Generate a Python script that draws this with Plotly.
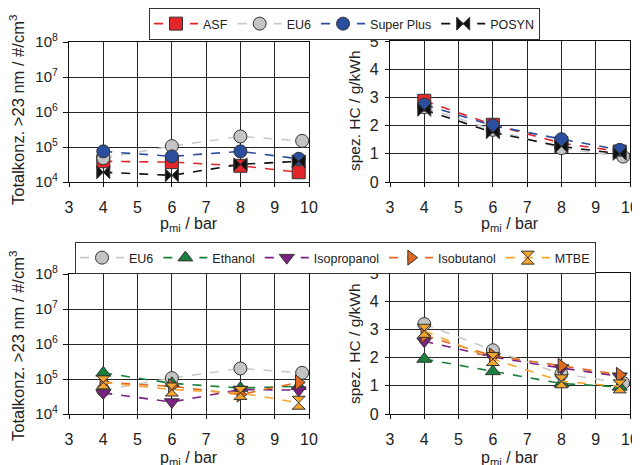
import plotly.graph_objects as go

# ---------------- data ----------------
x_load = [4, 6, 8, 9.7]
x_eu6 = [4, 6, 8, 9.8]

# particle number concentration (#/cm3), top
pn_asf = [3.9e4, 3.7e4, 2.9e4, 1.9e4]
pn_eu6 = [4.8e4, 1.06e5, 2.0e5, 1.5e5]
pn_superplus = [7.5e4, 5.4e4, 7.5e4, 4.6e4]
pn_posyn = [1.9e4, 1.55e4, 3.2e4, 3.9e4]

# HC specific emission (g/kWh), top
hc_asf = [2.88, 2.03, 1.38, 1.08]
hc_eu6_top = [2.65, 1.85, 1.2, 0.9]
hc_superplus = [2.74, 2.0, 1.52, 1.14]
hc_posyn = [2.56, 1.76, 1.26, 1.0]

# particle number concentration, bottom
pn_ethanol = [1.5e5, 7.5e4, 5.5e4, 6.2e4]
pn_isopropanol = [4.0e4, 2.2e4, 5.0e4, 4.8e4]
pn_isobutanol = [8.0e4, 6.2e4, 3.6e4, 8.0e4]
pn_mtbe = [8.0e4, 5.0e4, 4.0e4, 2.1e4]

# HC, bottom
hc_eu6_bot = [3.19, 2.26, 1.42, 1.1]
hc_ethanol = [1.95, 1.51, 1.08, 0.96]
hc_isopropanol = [2.58, 2.02, 1.63, 1.34]
hc_isobutanol = [2.78, 2.07, 1.71, 1.39]
hc_mtbe = [2.95, 1.95, 1.16, 0.98]

log_tickvals = [1e4, 1e5, 1e6, 1e7, 1e8]
log_ticktext = ["10<sup>4</sup>", "10<sup>5</sup>", "10<sup>6</sup>", "10<sup>7</sup>", "10<sup>8</sup>"]
x_ticks = [3, 4, 5, 6, 7, 8, 9, 10]
hc_ticks = [0, 1, 2, 3, 4, 5]

# ---------------- styles ----------------
C_ASF = "#e3262b"
C_EU6_LINE = "#c9c9c9"
C_EU6_FILL = "#c4c4c4"
C_SP = "#2b4f9e"
C_POS = "#111111"
C_ETH = "#1a7f3c"
C_IPA = "#7a2181"
C_IBA = "#e0691f"
C_MTBE = "#f6a52c"

FONT = "Liberation Sans, Arial, sans-serif"
# the page body has an 8 px margin, so the figure is drawn 8 px in from the corner
OFF = 8
W, H = 640 - OFF, 465 - OFF

fig = go.Figure()

def add(x, y, name, lc, fc, sym, xa, ya, legend, showlegend, size=13):
    fig.add_trace(go.Scatter(
        x=x, y=y, name=name, mode="lines+markers",
        line=dict(color=lc, width=1.6, dash="dash"),
        marker=dict(symbol=sym, size=size, color=fc, line=dict(color="#333333", width=1)),
        xaxis=xa, yaxis=ya, legend=legend, showlegend=showlegend,
        legendgroup=legend + name,
    ))

# top left
add(x_load, pn_asf, "ASF", C_ASF, C_ASF, "square", "x", "y", "legend", True)
add(x_eu6, pn_eu6, "EU6", C_EU6_LINE, C_EU6_FILL, "circle", "x", "y", "legend", True)
add(x_load, pn_superplus, "Super Plus", C_SP, C_SP, "circle", "x", "y", "legend", True)
add(x_load, pn_posyn, "POSYN", C_POS, C_POS, "bowtie", "x", "y", "legend", True)
# top right
add(x_load, hc_asf, "ASF", C_ASF, C_ASF, "square", "x2", "y2", "legend", False)
add(x_eu6, hc_eu6_top, "EU6", C_EU6_LINE, C_EU6_FILL, "circle", "x2", "y2", "legend", False)
add(x_load, hc_superplus, "Super Plus", C_SP, C_SP, "circle", "x2", "y2", "legend", False)
add(x_load, hc_posyn, "POSYN", C_POS, C_POS, "bowtie", "x2", "y2", "legend", False)
# bottom left
add(x_eu6, pn_eu6, "EU6", C_EU6_LINE, C_EU6_FILL, "circle", "x3", "y3", "legend2", True)
add(x_load, pn_ethanol, "Ethanol", C_ETH, C_ETH, "triangle-up", "x3", "y3", "legend2", True)
add(x_load, pn_isopropanol, "Isopropanol", C_IPA, C_IPA, "triangle-down", "x3", "y3", "legend2", True)
add(x_load, pn_isobutanol, "Isobutanol", C_IBA, C_IBA, "triangle-right", "x3", "y3", "legend2", True)
add(x_load, pn_mtbe, "MTBE", C_MTBE, C_MTBE, "hourglass", "x3", "y3", "legend2", True)
# bottom right
add(x_eu6, hc_eu6_bot, "EU6", C_EU6_LINE, C_EU6_FILL, "circle", "x4", "y4", "legend2", False)
add(x_load, hc_ethanol, "Ethanol", C_ETH, C_ETH, "triangle-up", "x4", "y4", "legend2", False)
add(x_load, hc_isopropanol, "Isopropanol", C_IPA, C_IPA, "triangle-down", "x4", "y4", "legend2", False)
add(x_load, hc_isobutanol, "Isobutanol", C_IBA, C_IBA, "triangle-right", "x4", "y4", "legend2", False)
add(x_load, hc_mtbe, "MTBE", C_MTBE, C_MTBE, "hourglass", "x4", "y4", "legend2", False)

def fx(sx):
    return (sx - OFF) / W

def fy(sy):
    return 1 - (sy - OFF) / H

def px_x(a, b):
    return [fx(a), fx(b)]

def px_y(top, bot):
    return [fy(bot), fy(top)]

GRID = "#262626"
xtickfont = dict(family=FONT, size=16, color="#222")
common_x = dict(range=[3, 10], tickvals=x_ticks, showgrid=True, gridcolor=GRID, gridwidth=1,
                showline=True, linecolor="#111", linewidth=1.2, mirror=True, automargin=False,
                ticks="outside", ticklen=4, tickcolor="#111", tickfont=xtickfont,
                ticklabelstandoff=7, zeroline=False)
log_y = dict(type="log", range=[4, 8], tickvals=log_tickvals, ticktext=log_ticktext,
             showgrid=True, gridcolor=GRID, gridwidth=1, showline=True, linecolor="#111",
             linewidth=1.2, mirror=True, ticks="outside", ticklen=5, tickcolor="#111",
             automargin=False, ticklabelstandoff=2,
             tickfont=dict(family=FONT, size=15, color="#222"), zeroline=False)
lin_y = dict(range=[0, 5], tickvals=hc_ticks, showgrid=True, gridcolor=GRID, gridwidth=1,
             showline=True, linecolor="#111", linewidth=1.2, mirror=True, automargin=False,
             ticks="outside", ticklen=4, tickcolor="#111", tickfont=xtickfont,
             ticklabelstandoff=3, zeroline=False)

legend_common = dict(orientation="h", xanchor="left", yanchor="top",
                     bordercolor="#333", borderwidth=1, bgcolor="white",
                     font=dict(family=FONT, size=12.5, color="#222"), itemwidth=44,
                     tracegroupgap=0)

fig.update_layout(
    template="none",
    width=W, height=H, margin=dict(l=0, r=0, t=0, b=0, autoexpand=False),
    paper_bgcolor="white", plot_bgcolor="white",
    font=dict(family=FONT, size=13, color="#222"),
    xaxis=dict(domain=px_x(69, 309), anchor="y", **common_x),
    yaxis=dict(domain=px_y(42, 182), anchor="x", **log_y),
    xaxis2=dict(domain=px_x(390, 630), anchor="y2", **common_x),
    yaxis2=dict(domain=px_y(41, 182), anchor="x2", **lin_y),
    xaxis3=dict(domain=px_x(69, 309), anchor="y3", **common_x),
    yaxis3=dict(domain=px_y(274, 414), anchor="x3", **log_y),
    xaxis4=dict(domain=px_x(390, 630), anchor="y4", **common_x),
    yaxis4=dict(domain=px_y(273, 414), anchor="x4", **lin_y),
    legend=dict(x=fx(149), y=fy(8), **legend_common),
    legend2=dict(x=fx(75), y=fy(242), **legend_common),
)

ann = []
def title(sx, sy, text, size, angle=0):
    ann.append(dict(x=fx(sx), y=fy(sy), xref="paper", yref="paper", text=text,
                    showarrow=False, textangle=angle,
                    font=dict(family=FONT, size=size, color="#222"),
                    xanchor="center", yanchor="middle"))

title(17, 110, "Totalkonz. >23 nm / #/cm<sup>3</sup>", 16.5, -90)
title(17, 346, "Totalkonz. >23 nm / #/cm<sup>3</sup>", 16.5, -90)
title(354, 111, "spez. HC / g/kWh", 15.5, -90)
title(354, 344, "spez. HC / g/kWh", 15.5, -90)
title(189, 224, "p<sub>mi</sub> / bar", 16)
title(510, 224, "p<sub>mi</sub> / bar", 16)
title(189, 458, "p<sub>mi</sub> / bar", 16)
title(510, 458, "p<sub>mi</sub> / bar", 16)
fig.update_layout(annotations=ann)

fig.write_html("out.html")
